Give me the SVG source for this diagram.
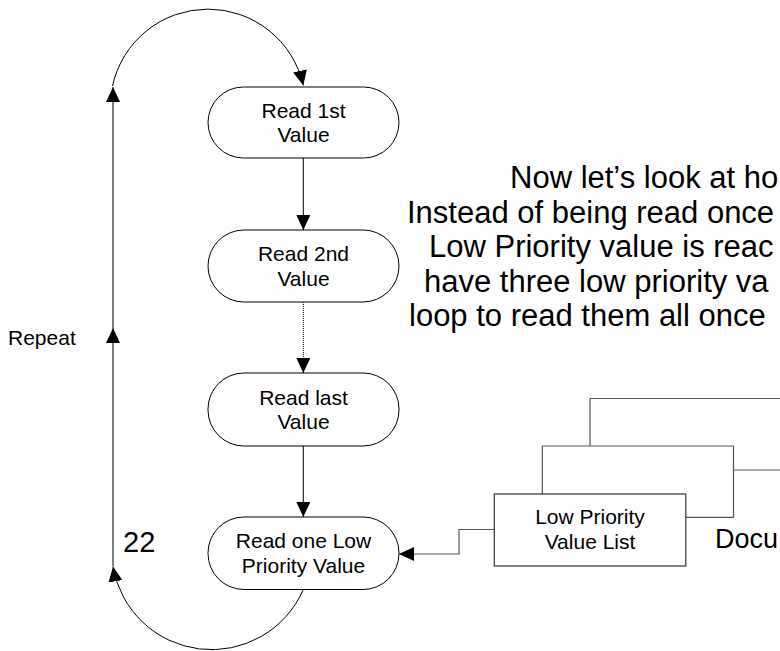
<svg xmlns="http://www.w3.org/2000/svg" width="780" height="651" viewBox="0 0 780 651">
<style>
  .node { fill: #ffffff; stroke: #000000; stroke-width: 1; }
  .ntext { font-family: "Liberation Sans", Arial, sans-serif; font-size: 21px; fill: #000000; text-anchor: middle; }
  .conn { fill: none; stroke: #000000; stroke-width: 1; }
  .gray { fill: none; stroke: #555555; stroke-width: 1.2; }
  .big { font-family: "Liberation Sans", Arial, sans-serif; font-size: 31px; fill: #000000; }
  .lbl { font-family: "Liberation Sans", Arial, sans-serif; fill: #000000; }
</style>
<defs>
  <marker id="arr" markerUnits="userSpaceOnUse" markerWidth="15" markerHeight="14" refX="15" refY="7" orient="auto">
    <path d="M0,0 L15,7 L0,14 z" fill="#000000"/>
  </marker>
</defs>
<rect width="780" height="651" fill="#ffffff"/>

<g id="connectors">
  <path class="conn" d="M303.3,158 L303.3,230" marker-end="url(#arr)"/>
  <path class="conn" d="M303.3,302 L303.3,373" stroke-dasharray="1 1" marker-end="url(#arr)"/>
  <path class="conn" d="M303.3,446 L303.3,517" marker-end="url(#arr)"/>
  <path class="conn" d="M303.3,589.5 A100,100 0 0 1 113,566.5" marker-end="url(#arr)"/>
  <path class="conn" d="M113,566 L113,328 L113,87" marker-mid="url(#arr)" marker-end="url(#arr)"/>
  <path class="conn" d="M112.5,86 A97.7,97.7 0 0 1 303.3,85.5" marker-end="url(#arr)"/>
  <path class="gray" d="M494,529.5 L459,529.5 L459,554 L399,554" marker-end="url(#arr)"/>
</g>

<g id="node-read1">
  <rect class="node" x="208" y="87" width="191" height="71" rx="35.5" ry="35.5"/>
  <text class="ntext" x="303.5" y="117.5">Read 1st</text>
  <text class="ntext" x="303.5" y="142">Value</text>
</g>
<g id="node-read2">
  <rect class="node" x="208" y="230" width="191" height="72" rx="36" ry="36"/>
  <text class="ntext" x="303.5" y="261">Read 2nd</text>
  <text class="ntext" x="303.5" y="285.5">Value</text>
</g>
<g id="node-readlast">
  <rect class="node" x="208" y="373" width="191" height="73" rx="36" ry="36"/>
  <text class="ntext" x="303.5" y="404.5">Read last</text>
  <text class="ntext" x="303.5" y="429">Value</text>
</g>
<g id="node-readlow">
  <rect class="node" x="208" y="517" width="191" height="72.5" rx="36" ry="36"/>
  <text class="ntext" x="303.5" y="548">Read one Low</text>
  <text class="ntext" x="303.5" y="572.5">Priority Value</text>
</g>

<g id="doc-stack">
  <path class="gray" d="M590,446 L590,398.5 L782,398.5"/>
  <path class="gray" d="M733.5,470 L782,470"/>
  <path class="gray" d="M542.3,494 L542.3,446 L733.5,446 L733.5,517.3 L686,517.3"/>
  <rect x="494.3" y="494" width="191.5" height="72" fill="#ffffff" stroke="#333333" stroke-width="1.2"/>
  <text class="ntext" x="590" y="524">Low Priority</text>
  <text class="ntext" x="590" y="548.5">Value List</text>
</g>

<g id="labels">
  <text class="lbl" x="8" y="345" font-size="21">Repeat</text>
  <text class="lbl" x="123" y="552" font-size="29">22</text>
  <text class="lbl" x="715" y="548" font-size="27">Docu</text>
</g>

<g id="note">
  <text class="big" x="510" y="188">Now let’s look at ho</text>
  <text class="big" x="407" y="222.5">Instead of being read once</text>
  <text class="big" x="429" y="257">Low Priority value is reac</text>
  <text class="big" x="424" y="291.5">have three low priority va</text>
  <text class="big" x="409" y="326">loop to read them all once</text>
</g>
</svg>
